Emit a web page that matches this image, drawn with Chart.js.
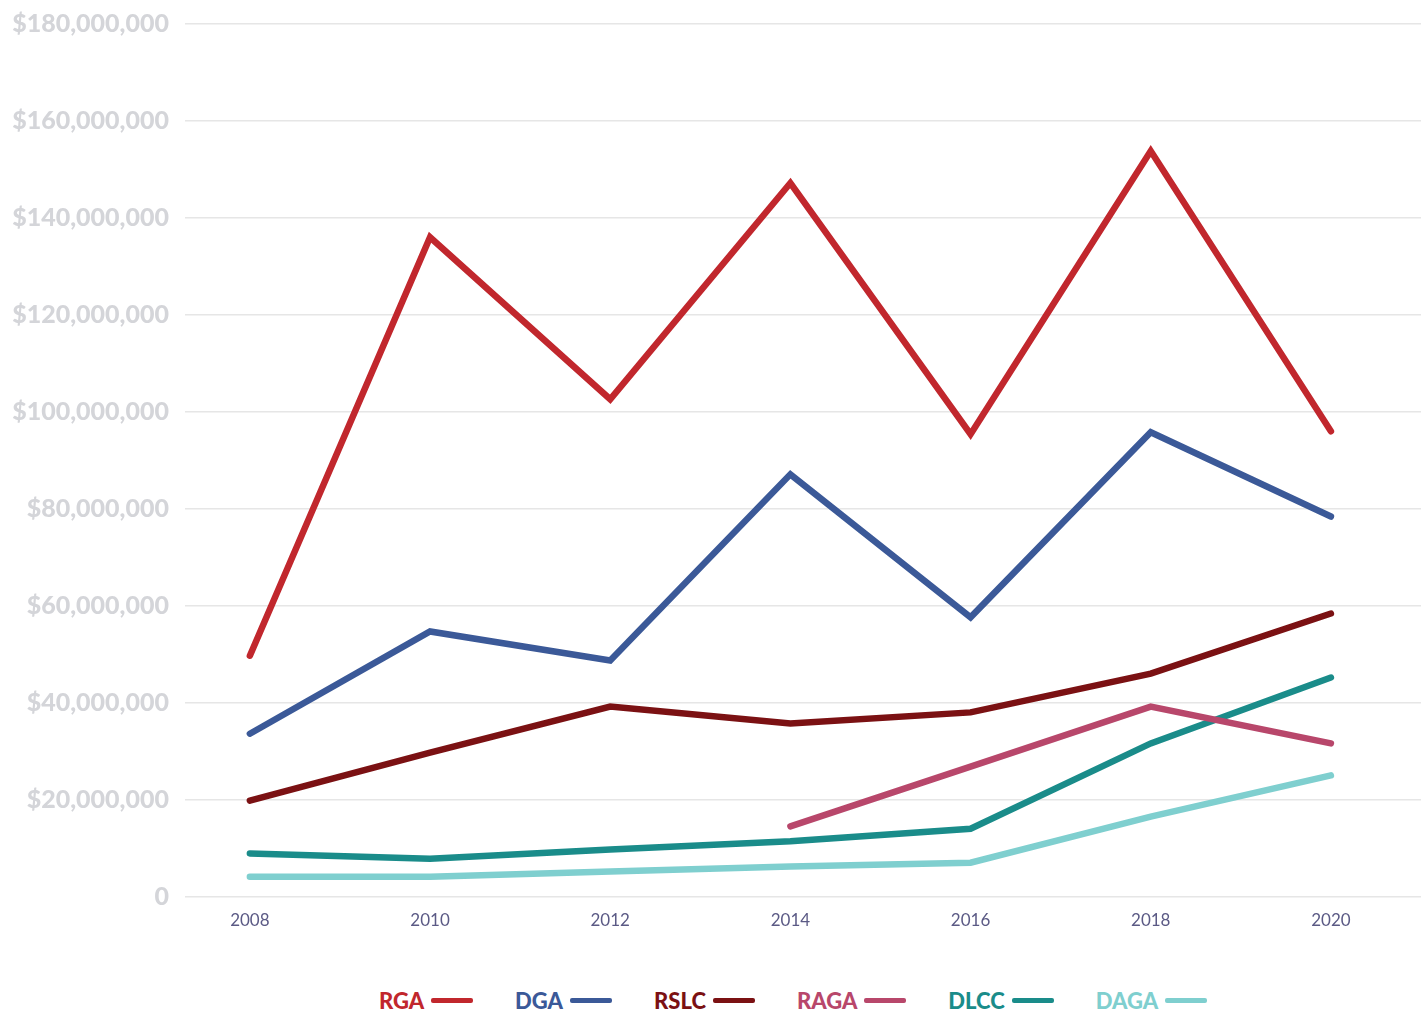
<!DOCTYPE html>
<html>
<head>
<meta charset="utf-8">
<script src="https://cdn.jsdelivr.net/npm/chart.js@4"></script>
<style>
  html, body { margin: 0; padding: 0; background: #fff; }
  #wrap { position: relative; width: 1421px; height: 937px; }
  #legend { position: absolute; top: 987px; left: 0; width: 1421px; display: flex; justify-content: center; gap: 42px; padding-left: 165px; box-sizing: border-box; font-family: Lato, "Open Sans", sans-serif; font-weight: 900; font-size: 22px; }
  .item { display: flex; align-items: center; }
  .item span.sw { display: inline-block; width: 42px; height: 5px; border-radius: 2px; margin-left: 7px; }
</style>
</head>
<body>
<div id="wrap"><canvas id="c"></canvas></div>
<div id="legend"></div>
<script>
const years = [2008, 2010, 2012, 2014, 2016, 2018, 2020];
const seriesNames = ["RGA", "DGA", "RSLC", "RAGA", "DLCC", "DAGA"];
const rga  = [49.7, 136.0, 102.6, 147.2, 95.4, 153.8, 96.0];
const dga  = [33.6, 54.7, 48.7, 87.1, 57.6, 95.8, 78.4];
const rslc = [19.8, 29.7, 39.2, 35.7, 38.0, 46.0, 58.4];
const raga = [null, null, null, 14.5, 26.8, 39.2, 31.6];
const dlcc = [8.9, 7.8, 9.7, 11.4, 14.0, 31.6, 45.2];
const daga = [4.1, 4.1, 5.2, 6.2, 7.0, 16.5, 25.0];
const yTicks = [0, 20, 40, 60, 80, 100, 120, 140, 160, 180];
const colors = ["#c1272d", "#3b5998", "#7b1113", "#b8476b", "#1a8c8a", "#7fcfcf"];

const allValues = [rga, dga, rslc, raga, dlcc, daga];
const datasets = seriesNames.map((n, i) => ({
  label: n,
  data: years.map((y, j) => ({ x: y, y: allValues[i][j] === null ? null : allValues[i][j] * 1e6 })),
  borderColor: colors[i],
  backgroundColor: colors[i],
  borderWidth: 6.5,
  pointRadius: 0,
  tension: 0,
  borderCapStyle: 'round',
  borderJoinStyle: 'miter',
  fill: false
}));

function fmt(v) {
  if (v === 0) return "0";
  return "$" + v.toLocaleString("en-US");
}

new Chart(document.getElementById('c'), {
  type: 'line',
  data: { datasets },
  options: {
    responsive: true,
    maintainAspectRatio: false,
    animation: false,
    layout: { padding: { top: 24, right: 0, left: 0, bottom: 0 } },
    plugins: { legend: { display: false }, tooltip: { enabled: false } },
    scales: {
      x: {
        type: 'linear',
        min: 2007.28,
        max: 2021,
        afterBuildTicks: (s) => { s.ticks = years.map(v => ({ value: v })); },
        ticks: { color: '#5b5a85', font: { family: 'Lato', size: 17 }, padding: 6, callback: (v) => String(v) },
        grid: { display: false },
        border: { display: false }
      },
      y: {
        min: 0,
        max: 180e6,
        afterBuildTicks: (s) => { s.ticks = yTicks.map(v => ({ value: v * 1e6 })); },
        afterFit: (s) => { s.width = 185; s.paddingTop = 0; s.paddingBottom = 0; },
        ticks: { color: '#d4d5d9', font: { family: 'Lato', size: 25, weight: '900' }, padding: 16, callback: (v) => fmt(v) },
        grid: { color: '#e6e6e6', lineWidth: 1.5, drawTicks: false },
        border: { display: false }
      }
    }
  }
});

const lg = document.getElementById('legend');
seriesNames.forEach((n, i) => {
  const d = document.createElement('div');
  d.className = 'item';
  d.style.color = colors[i];
  d.innerHTML = n + '<span class="sw" style="background:' + colors[i] + '"></span>';
  lg.appendChild(d);
});
</script>
</body>
</html>
